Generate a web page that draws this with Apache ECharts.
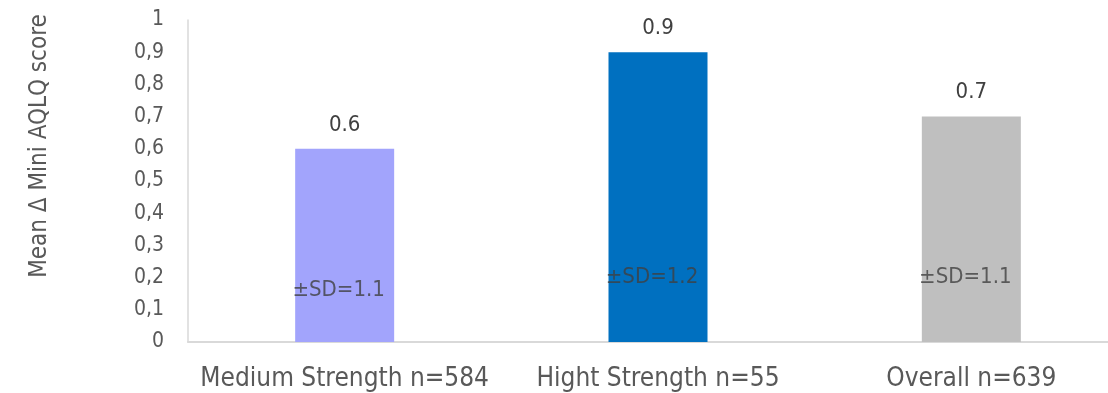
<!DOCTYPE html>
<html>
<head>
<meta charset="utf-8">
<title>Mean Δ Mini AQLQ score</title>
<script src="https://cdn.jsdelivr.net/npm/echarts@6/dist/echarts.min.js"></script>
<style>
  html, body { margin: 0; padding: 0; background: #ffffff; overflow: hidden; }
  /* the plot runs slightly past the right edge of the page */
  #chart { width: 1128px; height: 393px; }
</style>
</head>
<body>
<div id="chart"></div>
<script>
// Groups shown along the x axis
const categories = ['Medium Strength n=584', 'Hight Strength n=55', 'Overall n=639'];
// Mean change in Mini AQLQ score per group
const meanValues = [0.6, 0.9, 0.7];
// Standard deviation per group, written inside each bar
const sdValues = [1.1, 1.2, 1.1];
// Height (in score units) at which each SD note sits inside its bar
const sdLabelHeights = [0.16, 0.2, 0.2];
// Bar fill per group
const barColors = ['#a2a4fc', '#0070c0', '#bfbfbf'];
// Y axis ticks
const yMin = 0, yMax = 1, yStep = 0.1;

const FONT = '"DejaVu Sans Condensed", "DejaVu Sans", sans-serif';

const chart = echarts.init(document.getElementById('chart'), null, { renderer: 'canvas' });

chart.setOption({
  animation: false,
  backgroundColor: '#ffffff',
  grid: { left: 188, right: 0, top: 20, bottom: 51, containLabel: false },
  xAxis: {
    type: 'category',
    data: categories,
    axisLine: { show: true, lineStyle: { color: '#d9d9d9', width: 2 } },
    axisTick: { show: false },
    axisLabel: { interval: 0, color: '#595959', fontFamily: FONT, fontSize: 26, margin: 24 },
    splitLine: { show: false }
  },
  yAxis: {
    type: 'value',
    min: yMin, max: yMax, interval: yStep,
    axisLine: { show: true, lineStyle: { color: '#d9d9d9', width: 1.5 } },
    axisTick: { show: false },
    splitLine: { show: false },
    axisLabel: {
      color: '#595959', fontFamily: FONT, fontSize: 21, margin: 24,
      formatter: v => (Math.round(v * 10) / 10).toString().replace('.', ',')
    }
  },
  graphic: [{
    type: 'text',
    x: 40, y: 146,
    rotation: Math.PI / 2,
    style: {
      text: 'Mean Δ Mini AQLQ score',
      fill: '#595959',
      font: '24px ' + FONT,
      align: 'center',
      verticalAlign: 'middle'
    }
  }],
  series: [
    {
      type: 'bar',
      barWidth: 99,
      data: meanValues.map((v, i) => ({ value: v, itemStyle: { color: barColors[i] } })),
      label: {
        show: true, position: 'top', distance: 13,
        color: '#404040', fontFamily: FONT, fontSize: 22,
        formatter: p => p.value.toFixed(1)
      }
    },
    {
      type: 'scatter',
      silent: true,
      symbolSize: 0,
      data: sdLabelHeights.map((h, i) => [i, h]),
      label: {
        show: true, position: 'inside', offset: [-6, 0],
        color: '#404040', fontFamily: FONT, fontSize: 22,
        formatter: p => '±SD=' + sdValues[p.dataIndex].toFixed(1)
      }
    }
  ]
});
</script>
</body>
</html>
